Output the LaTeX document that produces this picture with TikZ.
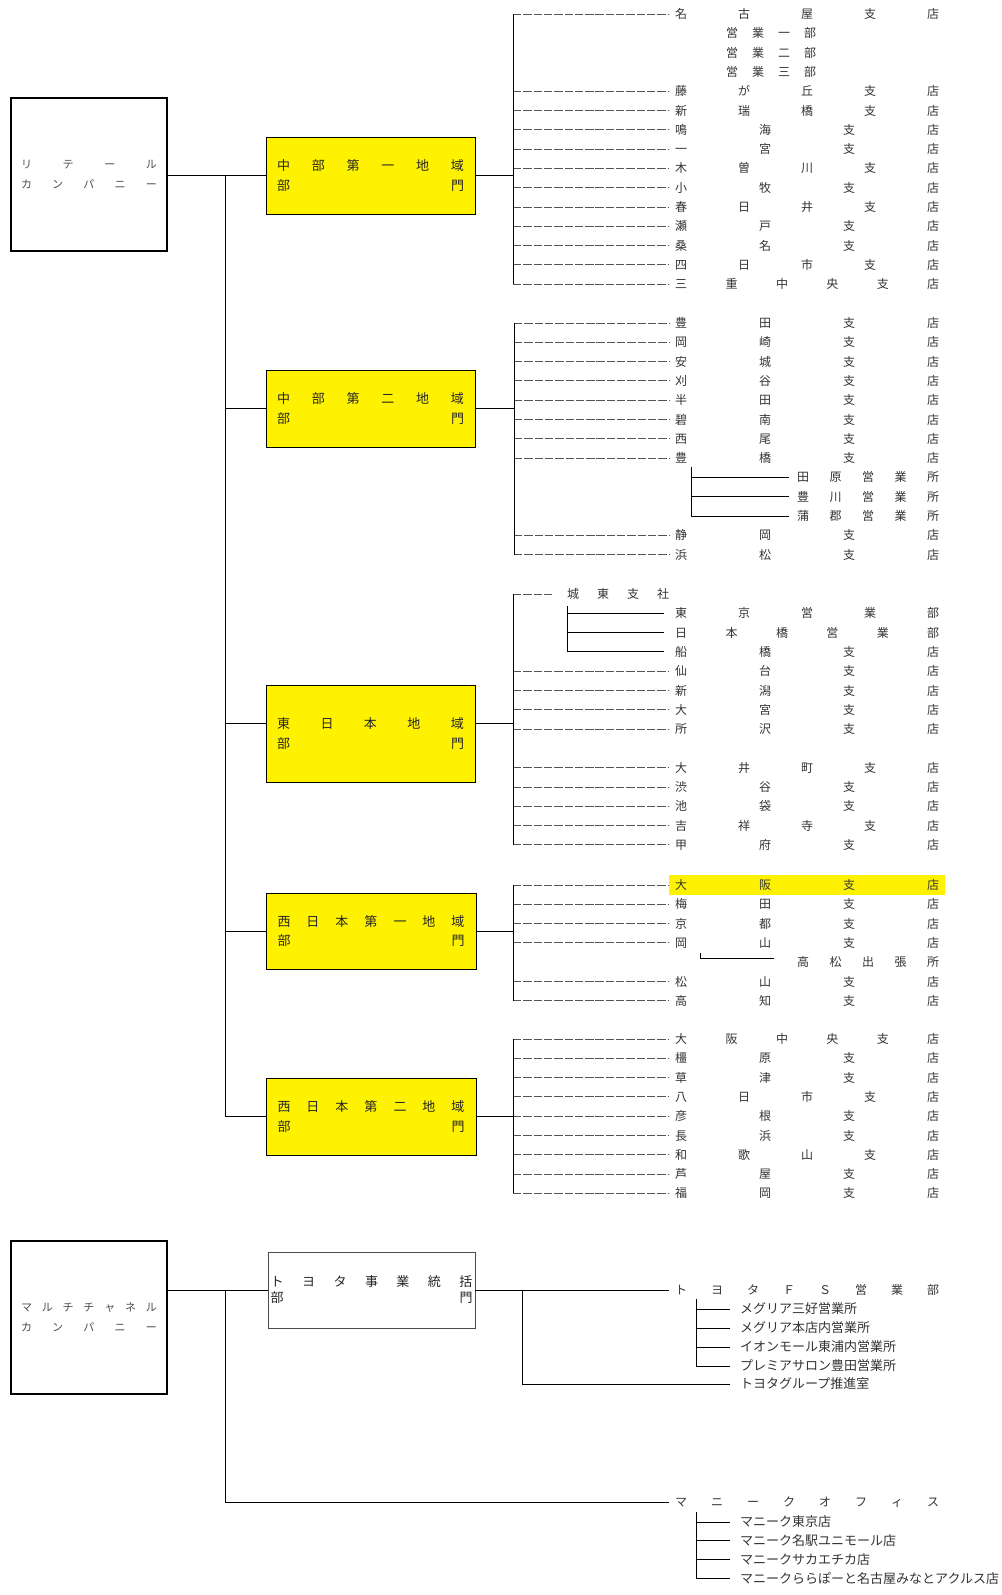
\documentclass[tikz,border=0pt]{standalone}
\usepackage{fontspec}
\setmainfont{Noto Sans CJK JP}
\usetikzlibrary{positioning}
\definecolor{txtgray}{HTML}{333333}
\definecolor{dashgray}{HTML}{555555}
% spread the characters evenly over a box of given width
\def\sprA#1{#1\sprB}
\def\sprB#1{\ifx\relax#1\else\hfil#1\expandafter\sprB\fi}
\newcommand\spr[2]{\hbox to #1{\expandafter\sprA#2\relax}}
\tikzset{
  ln/.style={line width=0.9pt,draw=black},
  dashln/.style={line width=0.9pt,draw=dashgray,dash pattern=on 8.4pt off 1.9pt},
  row/.style={anchor=west,inner xsep=6pt,inner ysep=1pt,text=txtgray,font=\fontsize{12}{14}\selectfont},
  subrow/.style={row,inner xsep=#1},
  item/.style={anchor=west,inner xsep=10pt,inner ysep=1pt,text=txtgray,font=\fontsize{13}{15}\selectfont},
  bumon/.style={draw,fill=yellow,line width=0.9pt,minimum width=209pt,minimum height=77pt,inner sep=0pt,align=center,text=black!85,font=\fontsize{13}{19.5}\selectfont},
  company/.style={draw,line width=2.4pt,minimum width=156pt,minimum height=153pt,inner sep=0pt,align=center,text=black!70,font=\fontsize{11}{20}\selectfont}
}
\begin{document}
\begin{tikzpicture}[x=1pt,y=-1pt]
\useasboundingbox (0,0) rectangle (1001,1595);
% companies and divisions
\node[company] (retail) at (89,174.5) {\spr{136pt}{リテール}\\\spr{136pt}{カンパニー}};
\node[company] (multi) at (89,1317.5) {\spr{136pt}{マルチチャネル}\\\spr{136pt}{カンパニー}};
\node[bumon] (b1) at (370.5,175.5) {\spr{187pt}{中部第一地域}\\\spr{187pt}{部門}};
\node[bumon] (b2) at (370.5,408.5) {\spr{187pt}{中部第二地域}\\\spr{187pt}{部門}};
\node[bumon,minimum height=97pt] (b3) at (370.5,733.5) {\spr{187pt}{東日本地域}\\\spr{187pt}{部門}};
\node[bumon,minimum width=210pt,minimum height=76pt] (b4) at (371,931) {\spr{187pt}{西日本第一地域}\\\spr{187pt}{部門}};
\node[bumon,minimum width=210pt] (b5) at (371,1116.5) {\spr{187pt}{西日本第二地域}\\\spr{187pt}{部門}};
\node[bumon,fill=white,draw=black!70,minimum width=207pt,minimum height=76pt,font=\fontsize{13}{16}\selectfont] (tb) at (371.5,1290) {\spr{202pt}{トヨタ事業統括}\\\spr{202pt}{部門}};
% trunk
\coordinate (tr1) at (225,175.5);
\draw[ln] (retail.east |- b1) -- (b1.west);
\draw[ln] (tr1) -- (tr1 |- b5);
\draw[ln] (tr1 |- b2) -- (b2.west);
\draw[ln] ([yshift=10.5pt]b3.west -| tr1) -- ([yshift=10.5pt]b3.west);
\draw[ln] (tr1 |- b4) -- (b4.west);
\draw[ln] (tr1 |- b5) -- (b5.west);
% branch points
\coordinate (br1) at (513,175.5);
\coordinate (br2) at (514,408.5);
\coordinate (br3) at (513,723);
\coordinate (br4) at (513,931);
\coordinate (br5) at (513,1116.5);
\draw[ln] (b1.east) -- (br1);
\draw[ln] (b2.east) -- (br2);
\draw[ln] ([yshift=10.5pt]b3.east) -- (br3);
\draw[ln] (b4.east) -- (br4);
\draw[ln] (b5.east) -- (br5);

% 中部第一地域部門
\foreach \k/\nm in {0/名古屋支店,4/藤が丘支店,5/新瑞橋支店,6/鳴海支店,7/一宮支店,8/木曽川支店,9/小牧支店,10/春日井支店,11/瀬戸支店,12/桑名支店,13/四日市支店,14/三重中央支店}{
  \node[row] (g1r\k) at (669,{14+19.3*\k}) {\spr{264pt}{\nm}};
  \draw[dashln] (br1 |- g1r\k) -- (g1r\k.west);
}
\foreach \k/\nm in {1/営業一部,2/営業二部,3/営業三部}
  \node[subrow=0pt] (g1s\k) at (726,{14+19.3*\k}) {\spr{90pt}{\nm}};
\draw[ln] (br1 |- g1r0) -- (br1 |- g1r14);

% 中部第二地域部門
\foreach \k/\nm in {0/豊田支店,1/岡崎支店,2/安城支店,3/刈谷支店,4/半田支店,5/碧南支店,6/西尾支店,7/豊橋支店,11/静岡支店,12/浜松支店}{
  \node[row] (g2r\k) at (669,{323+19.3*\k}) {\spr{264pt}{\nm}};
  \draw[dashln] (br2 |- g2r\k) -- (g2r\k.west);
}
\draw[ln] (br2 |- g2r0) -- (br2 |- g2r12);
\coordinate (tyb) at (691,467);
\foreach \k/\nm in {8/田原営業所,9/豊川営業所,10/蒲郡営業所}{
  \node[subrow=8pt] (g2s\k) at (789,{323+19.3*\k}) {\spr{142pt}{\nm}};
  \draw[ln] (tyb |- g2s\k) -- (g2s\k.west);
}
\draw[ln] (tyb) -- (tyb |- g2s10);

% 東日本地域部門
\node[subrow=15pt] (jt) at (552,594) {\spr{102pt}{城東支社}};
\draw[dashln] (br3 |- jt) -- (jt.west);
\coordinate (jtb) at (567,606);
\foreach \k/\nm in {1/東京営業部,2/日本橋営業部,3/船橋支店}{
  \node[row] (g3r\k) at (669,{594+19.3*\k}) {\spr{264pt}{\nm}};
  \draw[ln] (jtb |- g3r\k) -- ([xshift=-5pt]g3r\k.west);
}
\draw[ln] (jtb) -- (jtb |- g3r3);
\foreach \k/\nm in {4/仙台支店,5/新潟支店,6/大宮支店,7/所沢支店,9/大井町支店,10/渋谷支店,11/池袋支店,12/吉祥寺支店,13/甲府支店}{
  \node[row] (g3r\k) at (669,{594+19.3*\k}) {\spr{264pt}{\nm}};
  \draw[dashln] (br3 |- g3r\k) -- (g3r\k.west);
}
\draw[ln] (br3 |- jt) -- (br3 |- g3r13);

% 西日本第一地域部門
\node[row,fill=yellow,inner ysep=4.5pt] (g4r0) at (669,885) {\spr{264pt}{大阪支店}};
\draw[dashln] (br4 |- g4r0) -- (g4r0.west);
\foreach \k/\nm in {1/梅田支店,2/京都支店,3/岡山支店,5/松山支店,6/高知支店}{
  \node[row] (g4r\k) at (669,{885+19.3*\k}) {\spr{264pt}{\nm}};
  \draw[dashln] (br4 |- g4r\k) -- (g4r\k.west);
}
\draw[ln] (br4 |- g4r0) -- (br4 |- g4r6);
\node[subrow=23pt] (tk) at (774,962.2) {\spr{142pt}{高松出張所}};
\coordinate (tkb) at (700,953);
\draw[ln] (tkb) |- ([yshift=4pt]tk.west);

% 西日本第二地域部門
\foreach \k/\nm in {0/大阪中央支店,1/橿原支店,2/草津支店,3/八日市支店,4/彦根支店,5/長浜支店,6/和歌山支店,7/芦屋支店,8/福岡支店}{
  \node[row] (g5r\k) at (669,{1039+19.3*\k}) {\spr{264pt}{\nm}};
  \draw[dashln] (br5 |- g5r\k) -- (g5r\k.west);
}
\draw[ln] (br5 |- g5r0) -- (br5 |- g5r8);

% マルチチャネルカンパニー
\coordinate (tr2) at (225,1290);
\node[row] (fs) at (669,1290) {\spr{264pt}{トヨタＦＳ営業部}};
\node[row] (mo) at (669,1502) {\spr{264pt}{マニークオフィス}};
\draw[ln] (multi.east |- tr2) -- (tb.west);
\draw[ln] (tr2) -- (tr2 |- mo) -- (mo.west);
\draw[ln] (tb.east) -- (fs.west);
\coordinate (fsb) at (696,1299);
\foreach \i/\nm in {1/メグリア三好営業所,2/メグリア本店内営業所,3/イオンモール東浦内営業所,4/プレミアサロン豊田営業所}{
  \node[item] (fs\i) at (730,{1290+19*\i}) {\nm};
  \draw[ln] (fsb |- fs\i) -- (fs\i.west);
}
\draw[ln] (fsb) -- (fsb |- fs4);
\coordinate (tgb) at (522,1290);
\node[item] (tg) at (730,1384) {トヨタグループ推進室};
\draw[ln] (tgb) |- (tg.west);
\coordinate (mqb) at (696,1512);
\foreach \i/\nm in {1/マニーク東京店,2/マニーク名駅ユニモール店,3/マニークサカエチカ店,4/マニークららぽーと名古屋みなとアクルス店}{
  \node[item] (mq\i) at (730,{1503.3+18.7*\i}) {\nm};
  \draw[ln] (mqb |- mq\i) -- (mq\i.west);
}
\draw[ln] (mqb) -- (mqb |- mq4);
\end{tikzpicture}
\end{document}
